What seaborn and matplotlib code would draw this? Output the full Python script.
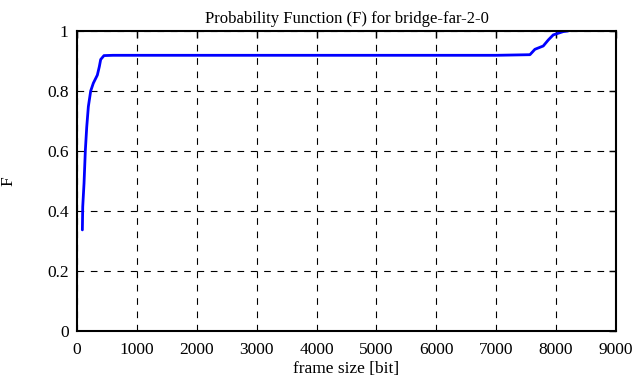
import matplotlib
matplotlib.use("Agg")
import matplotlib.pyplot as plt
import seaborn as sns
import pandas as pd

# CDF
frame_size = [89, 95, 117, 139, 162, 189, 228, 272, 339, 372, 395, 450, 600,
              7000, 7563, 7646, 7785, 7869, 7952, 8119, 8200]
prob = [0.337, 0.414, 0.493, 0.603, 0.68, 0.748, 0.80, 0.826, 0.853, 0.881,
        0.905, 0.918, 0.919, 0.919, 0.921, 0.939, 0.95, 0.97, 0.987, 0.998, 1.0]

x_ticks = list(range(0, 9001, 1000))
y_ticks = [0, 0.2, 0.4, 0.6, 0.8, 1]
y_labels = ["0", "0.2", "0.4", "0.6", "0.8", "1"]

df = pd.DataFrame({"frame size": frame_size, "F": prob})

sns.set_style("white")
plt.rcParams["font.family"] = ["Liberation Serif", "DejaVu Serif"]
plt.rcParams["font.size"] = 12
plt.rcParams["text.color"] = "black"
plt.rcParams["axes.labelcolor"] = "black"

fig = plt.figure(figsize=(6.34, 3.87), dpi=100)
ax = fig.add_axes([0.1215, 0.1447, 0.8501, 0.7752])

sns.lineplot(data=df, x="frame size", y="F", color="blue", linewidth=2,
             ax=ax, estimator=None, sort=False)

ax.set_xlim(0, 9000)
ax.set_ylim(0, 1)
ax.set_xticks(x_ticks)
ax.set_yticks(y_ticks)
ax.set_yticklabels(y_labels)

ax.grid(True, color="black", linestyle=(0, (6, 6)), linewidth=0.8)
ax.tick_params(direction="in", length=5, width=1, top=True, right=True,
               labelsize=12.5, colors="black")
ax.tick_params(axis="x", pad=8)
ax.tick_params(axis="y", pad=6)
for s in ax.spines.values():
    s.set_color("black")
    s.set_linewidth(1.5)

ax.set_title("Probability Function (F) for bridge-far-2-0", fontsize=12,
             color="black", pad=6)
ax.set_xlabel("frame size [bit]", fontsize=12.5, labelpad=2)
ax.set_ylabel("F", fontsize=12.5, labelpad=22)

fig.savefig("out.png", dpi=100)
